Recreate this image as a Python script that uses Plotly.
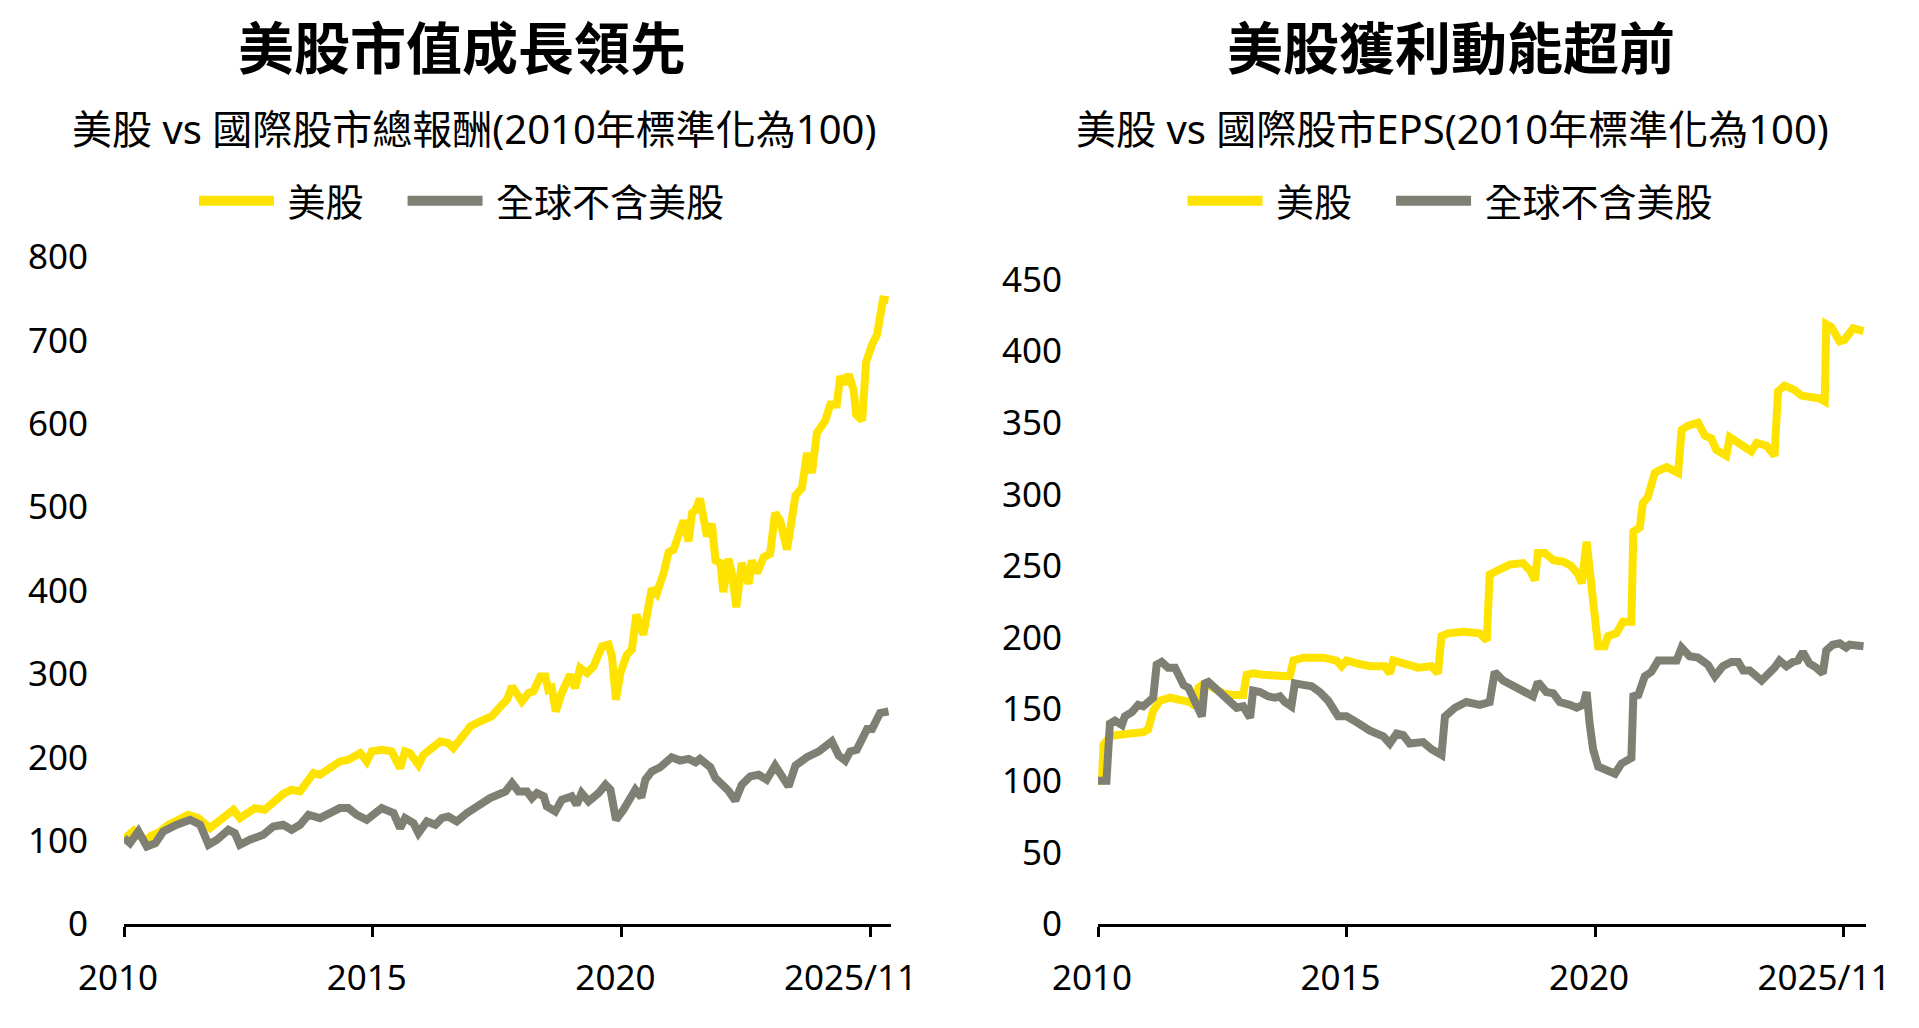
import plotly.graph_objects as go

# ---------------- data: left chart (total return, 2010 = 100) ----------------
tr_us_x = [2010.00, 2010.12, 2010.20, 2010.35, 2010.45, 2010.55, 2010.70, 2010.89, 2011.10, 2011.29,
           2011.49, 2011.66, 2011.73, 2011.90, 2012.05, 2012.20, 2012.33, 2012.50, 2012.63, 2012.83,
           2013.07, 2013.20, 2013.37, 2013.54, 2013.70, 2013.81, 2013.94, 2014.14, 2014.34, 2014.51,
           2014.75, 2014.88, 2014.98, 2015.18, 2015.38, 2015.55, 2015.65, 2015.75, 2015.92, 2016.02,
           2016.22, 2016.36, 2016.52, 2016.62, 2016.86, 2016.96, 2017.16, 2017.39, 2017.60, 2017.70,
           2017.80, 2018.00, 2018.13, 2018.23, 2018.37, 2018.47, 2018.53, 2018.60, 2018.68, 2018.80,
           2018.97, 2019.07, 2019.17, 2019.31, 2019.44, 2019.61, 2019.74, 2019.81, 2019.89, 2019.98,
           2020.11, 2020.21, 2020.30, 2020.44, 2020.61, 2020.71, 2020.85, 2020.95, 2021.05, 2021.25,
           2021.35, 2021.42, 2021.48, 2021.58, 2021.72, 2021.82, 2021.89, 2021.99, 2022.05, 2022.15,
           2022.22, 2022.31, 2022.42, 2022.56, 2022.62, 2022.73, 2022.86, 2022.99, 2023.09, 2023.19,
           2023.33, 2023.50, 2023.63, 2023.73, 2023.83, 2023.93, 2024.10, 2024.20, 2024.33, 2024.40,
           2024.47, 2024.57, 2024.67, 2024.72, 2024.84, 2024.92, 2025.04, 2025.14, 2025.26, 2025.37]
tr_us_y = [102, 108, 112, 104, 100, 106, 110, 119, 125, 131,
           127, 117, 115, 123, 130, 137, 127, 135, 139, 137,
           151, 156, 161, 159, 172, 181, 179, 187, 195, 197,
           205, 195, 207, 209, 207, 187, 207, 205, 191, 203,
           211, 219, 217, 211, 229, 237, 243, 249, 263, 269,
           285, 267, 277, 279, 297, 297, 281, 283, 255, 277,
           299, 283, 307, 301, 309, 333, 335, 321, 269, 301,
           323, 329, 371, 347, 402, 396, 421, 446, 449, 484,
           459, 493, 496, 510, 465, 480, 436, 433, 398, 438,
           421, 380, 433, 408, 436, 421, 440, 444, 493, 484,
           449, 514, 523, 565, 541, 589, 604, 623, 623, 657,
           648, 659, 640, 611, 604, 674, 695, 707, 749, 748]

tr_ex_x = [2010.00, 2010.12, 2010.29, 2010.46, 2010.63, 2010.79, 2011.06, 2011.33, 2011.53, 2011.70,
           2011.87, 2012.10, 2012.23, 2012.33, 2012.53, 2012.80, 2013.00, 2013.20, 2013.37, 2013.54,
           2013.71, 2013.94, 2014.14, 2014.34, 2014.51, 2014.68, 2014.88, 2015.08, 2015.18, 2015.42,
           2015.55, 2015.65, 2015.82, 2015.92, 2016.09, 2016.26, 2016.39, 2016.52, 2016.69, 2016.89,
           2017.16, 2017.36, 2017.67, 2017.80, 2017.93, 2018.10, 2018.20, 2018.30, 2018.44, 2018.50,
           2018.67, 2018.80, 2019.00, 2019.10, 2019.20, 2019.34, 2019.54, 2019.68, 2019.78, 2019.89,
           2020.04, 2020.28, 2020.40, 2020.48, 2020.61, 2020.78, 2021.01, 2021.18, 2021.35, 2021.49,
           2021.58, 2021.79, 2021.89, 2022.02, 2022.15, 2022.29, 2022.42, 2022.59, 2022.76, 2022.92,
           2023.09, 2023.36, 2023.50, 2023.73, 2023.97, 2024.23, 2024.37, 2024.50, 2024.60, 2024.73,
           2024.94, 2025.04, 2025.20, 2025.37]
tr_ex_y = [103, 97, 111, 93, 97, 111, 119, 125, 119, 95,
           101, 113, 109, 95, 101, 107, 117, 119, 113, 119,
           131, 127, 133, 139, 139, 131, 125, 135, 139, 133,
           115, 127, 121, 109, 123, 119, 127, 129, 123, 133,
           145, 151, 159, 169, 159, 159, 151, 157, 153, 141,
           135, 149, 153, 143, 157, 147, 157, 167, 161, 125,
           137, 161, 152, 173, 183, 188, 200, 196, 198, 194,
           198, 188, 175, 169, 160, 148, 167, 177, 179, 173,
           190, 165, 190, 200, 207, 219, 202, 196, 207, 209,
           234, 234, 253, 255]

# ---------------- data: right chart (EPS, 2010 = 100) ----------------
eps_us_x = [2010.00, 2010.08, 2010.11, 2010.24, 2010.38, 2010.64, 2010.91, 2011.01, 2011.11, 2011.25,
            2011.45, 2011.72, 2011.85, 2011.95, 2012.02, 2012.15, 2012.35, 2012.52, 2012.72, 2012.92,
            2012.99, 2013.12, 2013.32, 2013.59, 2013.86, 2013.93, 2014.13, 2014.53, 2014.80, 2014.90,
            2015.00, 2015.20, 2015.47, 2015.77, 2015.87, 2015.94, 2016.14, 2016.44, 2016.71, 2016.84,
            2016.91, 2017.04, 2017.35, 2017.68, 2017.82, 2017.88, 2018.05, 2018.28, 2018.55, 2018.69,
            2018.79, 2018.85, 2018.99, 2019.16, 2019.36, 2019.52, 2019.66, 2019.73, 2019.83, 2019.89,
            2019.96, 2020.06, 2020.19, 2020.26, 2020.43, 2020.56, 2020.73, 2020.77, 2020.90, 2020.96,
            2021.06, 2021.20, 2021.30, 2021.44, 2021.67, 2021.74, 2021.87, 2022.07, 2022.21, 2022.34,
            2022.44, 2022.54, 2022.64, 2022.71, 2022.84, 2023.01, 2023.14, 2023.25, 2023.45, 2023.61,
            2023.68, 2023.81, 2024.01, 2024.15, 2024.35, 2024.52, 2024.62, 2024.65, 2024.75, 2024.92,
            2025.02, 2025.19, 2025.40]
eps_us_y = [100, 100, 125, 131, 132, 133, 134, 136, 149, 156,
            158, 156, 155, 152, 165, 168, 165, 161, 160, 160,
            174, 175, 174, 173, 173, 184, 186, 186, 184, 180,
            184, 182, 180, 180, 175, 184, 182, 179, 180, 175,
            201, 203, 204, 203, 198, 244, 247, 251, 252, 247,
            240, 259, 259, 254, 253, 250, 244, 238, 267, 245,
            217, 194, 194, 201, 203, 211, 211, 274, 277, 294,
            298, 315, 317, 319, 315, 345, 348, 350, 341, 339,
            331, 329, 327, 340, 337, 334, 330, 336, 334, 327,
            372, 376, 373, 369, 368, 367, 365, 419, 417, 407,
            408, 416, 414]

eps_ex_x = [2010.00, 2010.17, 2010.24, 2010.34, 2010.48, 2010.54, 2010.68, 2010.81, 2010.91, 2011.05,
            2011.11, 2011.18, 2011.28, 2011.41, 2011.55, 2011.65, 2011.72, 2011.82, 2011.95, 2012.09,
            2012.15, 2012.22, 2012.35, 2012.49, 2012.65, 2012.79, 2012.92, 2013.06, 2013.12, 2013.26,
            2013.42, 2013.56, 2013.66, 2013.76, 2013.89, 2013.96, 2014.13, 2014.30, 2014.46, 2014.63,
            2014.83, 2015.00, 2015.20, 2015.47, 2015.74, 2015.87, 2016.01, 2016.14, 2016.27, 2016.54,
            2016.71, 2016.91, 2016.98, 2017.18, 2017.41, 2017.68, 2017.88, 2017.98, 2018.15, 2018.35,
            2018.55, 2018.75, 2018.85, 2019.02, 2019.16, 2019.29, 2019.49, 2019.63, 2019.76, 2019.83,
            2019.89, 2019.96, 2020.06, 2020.23, 2020.40, 2020.53, 2020.67, 2020.73, 2020.77, 2020.87,
            2021.00, 2021.13, 2021.27, 2021.44, 2021.64, 2021.74, 2021.90, 2022.07, 2022.27, 2022.41,
            2022.57, 2022.74, 2022.88, 2022.98, 2023.11, 2023.35, 2023.48, 2023.61, 2023.71, 2023.85,
            2023.98, 2024.08, 2024.18, 2024.31, 2024.45, 2024.58, 2024.65, 2024.78, 2024.92, 2025.05,
            2025.12, 2025.40]
eps_ex_y = [100, 100, 140, 142, 139, 145, 148, 153, 152, 156,
            158, 181, 183, 179, 179, 172, 167, 165, 154, 145,
            168, 169, 165, 160, 155, 151, 152, 144, 163, 162,
            159, 158, 159, 155, 152, 168, 167, 166, 162, 156,
            145, 145, 141, 135, 131, 126, 133, 132, 126, 127,
            122, 118, 145, 151, 155, 153, 155, 176, 170, 166,
            163, 159, 169, 162, 161, 155, 153, 151, 153, 162,
            140, 122, 110, 108, 105, 112, 115, 116, 159, 160,
            173, 176, 184, 184, 184, 193, 187, 186, 181, 173,
            180, 183, 183, 177, 177, 170, 174, 179, 184, 180,
            183, 184, 190, 182, 179, 175, 191, 195, 196, 193,
            195, 194]

# ---------------- labels ----------------
NB = "\u00a0"
x_tickvals = [2010, 2015, 2020, 2025]
x_ticktext = ["2010", "2015", "2020", "2025/11" + NB * 3]
left_yticks = [0, 100, 200, 300, 400, 500, 600, 700, 800]
right_yticks = [0, 50, 100, 150, 200, 250, 300, 350, 400, 450]
series_names = ["美股", "全球不含美股"]
titles = ["美股市值成長領先", "美股獲利動能超前"]
subtitles = ["美股 vs 國際股市總報酬(2010年標準化為100)", "美股 vs 國際股市EPS(2010年標準化為100)"]

YEL = "#FFE300"
GRY = "#7F7F73"
CJK = "Noto Sans CJK TC"
NUM = "Noto Sans, Noto Sans CJK TC"
LW = 8
LEG_LW = 10.5

name_us = NB + series_names[0] + NB * 4
name_ex = NB + series_names[1]

fig = go.Figure()
panels = [
    ("x", "y", "legend", tr_us_x, tr_us_y, tr_ex_x, tr_ex_y),
    ("x2", "y2", "legend2", eps_us_x, eps_us_y, eps_ex_x, eps_ex_y),
]
for xa, ya, lg, ux, uy, ex, ey in panels:
    fig.add_trace(go.Scatter(x=ux, y=uy, mode="lines", name=name_us, showlegend=False,
                             line=dict(color=YEL, width=LW), xaxis=xa, yaxis=ya))
    fig.add_trace(go.Scatter(x=ex, y=ey, mode="lines", name=name_ex, showlegend=False,
                             line=dict(color=GRY, width=LW), xaxis=xa, yaxis=ya))
    # legend keys (thicker strokes, as in the reference legend)
    fig.add_trace(go.Scatter(x=[None], y=[None], mode="lines", name=name_us, legend=lg,
                             line=dict(color=YEL, width=LEG_LW), xaxis=xa, yaxis=ya))
    fig.add_trace(go.Scatter(x=[None], y=[None], mode="lines", name=name_ex, legend=lg,
                             line=dict(color=GRY, width=LEG_LW), xaxis=xa, yaxis=ya))

W, H = 1919, 1028

xaxis_common = dict(
    tickvals=x_tickvals, ticktext=x_ticktext, showgrid=False, zeroline=False, automargin=False,
    showline=True, linecolor="black", linewidth=3,
    ticks="outside", ticklen=10, tickwidth=3, tickcolor="black",
    tickfont=dict(family=NUM, size=35, color="black"), ticklabelstandoff=11, ticklabelshift=-6,
)
yaxis_common = dict(
    showgrid=False, zeroline=False, showline=False, ticks="", automargin=False,
    tickfont=dict(family=NUM, size=35, color="black"), ticklabelstandoff=35,
)


def px(x):
    return x / W


def py(y):
    return 1 - y / H


fig.update_layout(
    width=W, height=H, autosize=False,
    margin=dict(l=0, r=0, t=0, b=0, autoexpand=False),
    paper_bgcolor="white", plot_bgcolor="white",
    showlegend=True,
    xaxis=dict(domain=[px(124), px(891)], range=[2010, 2025.42], anchor="y", **xaxis_common),
    xaxis2=dict(domain=[px(1098), px(1866)], range=[2010, 2025.45], anchor="y2", **xaxis_common),
    yaxis=dict(domain=[py(924), py(257)], range=[0, 800], tickvals=left_yticks, anchor="x", **yaxis_common),
    yaxis2=dict(domain=[py(924), py(279.6)], range=[0, 450], tickvals=right_yticks, anchor="x2", **yaxis_common),
    legend=dict(orientation="h", x=px(462), xanchor="center", y=py(201), yanchor="middle",
                font=dict(family=CJK, size=38, color="black"), itemwidth=75,
                bgcolor="rgba(0,0,0,0)"),
    legend2=dict(orientation="h", x=px(1450.5), xanchor="center", y=py(201), yanchor="middle",
                 font=dict(family=CJK, size=38, color="black"), itemwidth=75,
                 bgcolor="rgba(0,0,0,0)"),
)

for tx, sx, t, s in [(462, 474, titles[0], subtitles[0]), (1451, 1452, titles[1], subtitles[1])]:
    fig.add_annotation(x=px(tx), y=py(45), xref="paper", yref="paper", text="<b>" + t + "</b>",
                       showarrow=False, xanchor="center", yanchor="middle",
                       font=dict(family=CJK, size=56, color="black"))
    fig.add_annotation(x=px(sx), y=py(128), xref="paper", yref="paper", text=s,
                       showarrow=False, xanchor="center", yanchor="middle",
                       font=dict(family=NUM, size=40, color="black"))

# place the figure flush with the page corner (no default 8px body margin), no mode bar
fig.write_html("out.html", config={"displayModeBar": False},
               post_script="document.body.style.margin='0px';")
